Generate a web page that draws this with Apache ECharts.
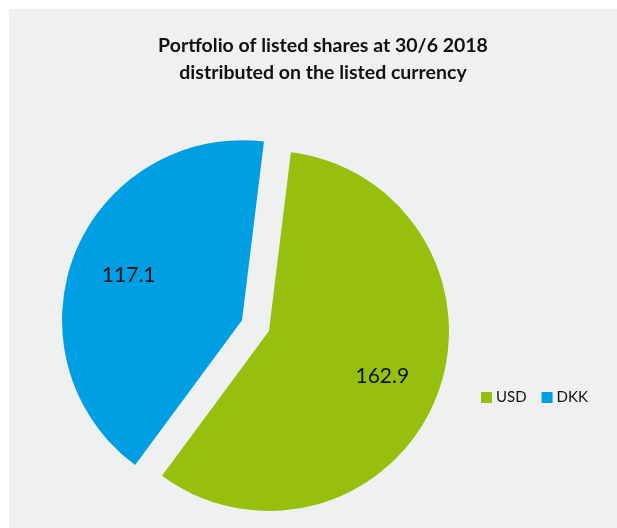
<!DOCTYPE html>
<html>
<head>
<meta charset="utf-8">
<script src="https://cdn.jsdelivr.net/npm/echarts@6/dist/echarts.min.js"></script>
<style>
  html, body { margin: 0; padding: 0; background: #ffffff; }
  #chart { position: absolute; left: 9px; top: 9px; width: 608px; height: 519px; }
</style>
</head>
<body>
<div id="chart"></div>
<script>
// Listed shares by currency, 30/6 2018
const currencies = ['USD', 'DKK'];
const amounts = [162.9, 117.1];
const sliceColors = ['#97bf0d', '#009fe3'];

const font = 'Lato, "Open Sans", sans-serif';
const slices = currencies.map((name, i) => ({
  name: name,
  value: amounts[i],
  selected: true,
  itemStyle: { color: sliceColors[i] }
}));

const center = [246.5, 316.6];
const chart = echarts.init(document.getElementById('chart'));
chart.setOption({
  backgroundColor: '#eff1f0',
  animation: false,
  title: {
    text: 'Portfolio of listed shares at 30/6 2018\ndistributed on the listed currency',
    left: 309,
    top: 18,
    textAlign: 'center',
    textStyle: { fontFamily: font, fontWeight: 'bold', fontSize: 19.5, lineHeight: 27, color: '#111' }
  },
  legend: {
    data: currencies,
    left: 467,
    top: 376,
    itemWidth: 11,
    itemHeight: 11,
    itemGap: 15,
    icon: 'rect',
    selectedMode: false,
    textStyle: { fontFamily: font, fontSize: 15, color: '#111', padding: [0, 0, 0, -1] }
  },
  series: [
    {
      type: 'pie',
      center: center,
      radius: 180,
      startAngle: 83,
      clockwise: true,
      selectedMode: 'multiple',
      selectedOffset: 14.5,
      label: { show: false },
      labelLine: { show: false },
      emphasis: { disabled: true },
      data: slices
    },
    {
      // transparent ring that carries the value labels at about two thirds of the radius
      type: 'pie',
      center: center,
      radius: [58, 180],
      startAngle: 83,
      clockwise: true,
      silent: true,
      selectedMode: 'multiple',
      selectedOffset: 14.5,
      itemStyle: { color: 'rgba(0,0,0,0)' },
      label: {
        show: true,
        position: 'inside',
        formatter: p => p.value.toFixed(1),
        fontFamily: font,
        fontSize: 21,
        color: '#111',
        offset: [-1, 3]
      },
      labelLine: { show: false },
      emphasis: { disabled: true },
      data: currencies.map((name, i) => ({ name: name, value: amounts[i], selected: true }))
    }
  ]
});
</script>
</body>
</html>
